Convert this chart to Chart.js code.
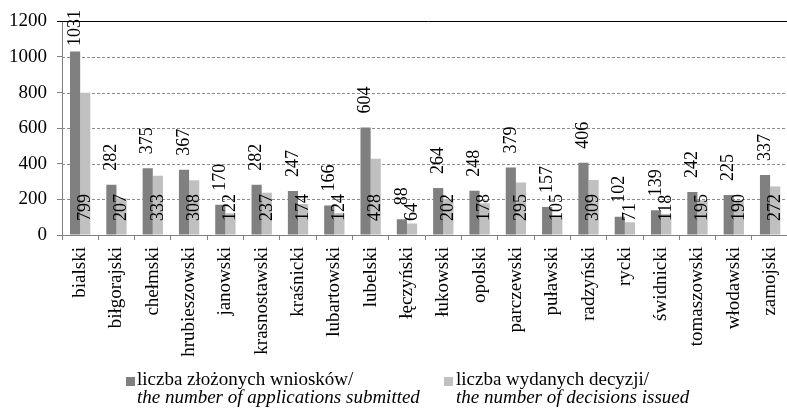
<!DOCTYPE html>
<html>
<head>
<meta charset="utf-8">
<script src="https://cdn.jsdelivr.net/npm/chart.js@4/dist/chart.umd.min.js"></script>
<style>
  html, body { margin: 0; padding: 0; background: #fff; overflow: hidden; }
  #wrap { position: relative; width: 800px; height: 419px; }
  .sq { position: absolute; width: 9px; height: 9px; }
  .lg { position: absolute; font-family: "Liberation Serif", serif; font-size: 19px; line-height: 18px; color: #000; white-space: nowrap; }
  .lg i { font-style: italic; }
</style>
</head>
<body>
<div id="wrap">
  <canvas id="barChart" width="800" height="419"></canvas>
  <div class="sq" style="left:126px;top:377px;background:#808080"></div>
  <div class="lg" style="left:137px;top:370px">liczba złożonych wniosków/<br><i>the number of applications submitted</i></div>
  <div class="sq" style="left:444px;top:377px;background:#c0c0c0"></div>
  <div class="lg" style="left:456px;top:370px">liczba wydanych decyzji/<br><i>the number of decisions issued</i></div>
</div>
<script>
var powiaty = ["bialski", "biłgorajski", "chełmski", "hrubieszowski", "janowski", "krasnostawski",
  "kraśnicki", "lubartowski", "lubelski", "łęczyński", "łukowski", "opolski", "parczewski",
  "puławski", "radzyński", "rycki", "świdnicki", "tomaszowski", "włodawski", "zamojski"];
var wnioski = [1031, 282, 375, 367, 170, 282, 247, 166, 604, 88, 264, 248, 379, 157, 406, 102, 139, 242, 225, 337];
var decyzje = [799, 207, 333, 308, 122, 237, 174, 124, 428, 64, 202, 178, 295, 105, 309, 71, 118, 195, 190, 272];
var yTicks = [0, 200, 400, 600, 800, 1000, 1200];

// linie siatki: górna ciągła, reszta kropkowana
const gridLines = {
  id: "gridLines",
  beforeDatasetsDraw(chart) {
    const ctx = chart.ctx;
    const a = chart.chartArea;
    const y = chart.scales.y;
    ctx.save();
    yTicks.forEach((v) => {
      if (v === 0) return;
      const py = Math.round(y.getPixelForValue(v)) + 0.5;
      ctx.beginPath();
      if (v === yTicks[yTicks.length - 1]) {
        ctx.strokeStyle = "#000";
        ctx.setLineDash([]);
        ctx.moveTo(a.left - 5, py);
        ctx.lineTo(chart.width, py);
      } else {
        ctx.strokeStyle = "#8c8c8c";
        ctx.setLineDash([3, 2]);
        ctx.moveTo(a.left, py);
        ctx.lineTo(a.right, py);
      }
      ctx.lineWidth = 1;
      ctx.stroke();
    });
    ctx.restore();
  }
};

// etykiety wartości, obrócone
const barLabels = {
  id: "barLabels",
  afterDatasetsDraw(chart) {
    const ctx = chart.ctx;
    const base = chart.scales.y.getPixelForValue(0);
    ctx.save();
    ctx.font = '18px "Liberation Serif"';
    ctx.fillStyle = "#000";
    ctx.textAlign = "left";
    ctx.textBaseline = "middle";
    chart.data.datasets.forEach((ds, di) => {
      chart.getDatasetMeta(di).data.forEach((bar, i) => {
        const txt = String(ds.data[i]);
        const w = ctx.measureText(txt).width;
        let start;
        if (di === 0) {
          start = bar.y - 14;
          if (start - w < 10) start = 10 + w;
        } else {
          start = base - 14;
        }
        ctx.save();
        ctx.translate(bar.x, start);
        ctx.rotate(-Math.PI / 2);
        ctx.fillText(txt, 0, 0);
        ctx.restore();
      });
    });
    ctx.restore();
  }
};

var ctx = document.getElementById("barChart").getContext("2d");
var barChart = new Chart(ctx, {
  type: "bar",
  data: {
    labels: powiaty,
    datasets: [{
      label: "liczba złożonych wniosków/ the number of applications submitted",
      data: wnioski,
      backgroundColor: "#808080",
      categoryPercentage: 0.56,
      barPercentage: 1.0
    }, {
      label: "liczba wydanych decyzji/ the number of decisions issued",
      data: decyzje,
      backgroundColor: "#c0c0c0",
      categoryPercentage: 0.56,
      barPercentage: 1.0
    }]
  },
  options: {
    responsive: false,
    animation: false,
    devicePixelRatio: 1,
    layout: { padding: { top: 17, left: 0, right: 4, bottom: 0 } },
    plugins: {
      legend: { display: false },
      tooltip: { enabled: false }
    },
    scales: {
      x: {
        grid: { offset: true, drawOnChartArea: false, drawTicks: true, tickLength: 5, color: "#808080" },
        border: { color: "#808080" },
        ticks: {
          color: "#000",
          font: { family: "Liberation Serif", size: 19 },
          minRotation: 90,
          maxRotation: 90,
          padding: 7,
          autoSkip: false
        },
        afterFit: function(scale) { scale.height = 184; }
      },
      y: {
        min: 0,
        max: 1200,
        grid: { drawOnChartArea: false, drawTicks: true, tickLength: 5, color: "#808080" },
        border: { color: "#808080" },
        ticks: {
          stepSize: 200,
          color: "#000",
          font: { family: "Liberation Serif", size: 19 },
          padding: 10,
          callback: function(value) { return String(value); }
        },
        afterFit: function(scale) { scale.width = 62; }
      }
    }
  },
  plugins: [gridLines, barLabels]
});
</script>
</body>
</html>
